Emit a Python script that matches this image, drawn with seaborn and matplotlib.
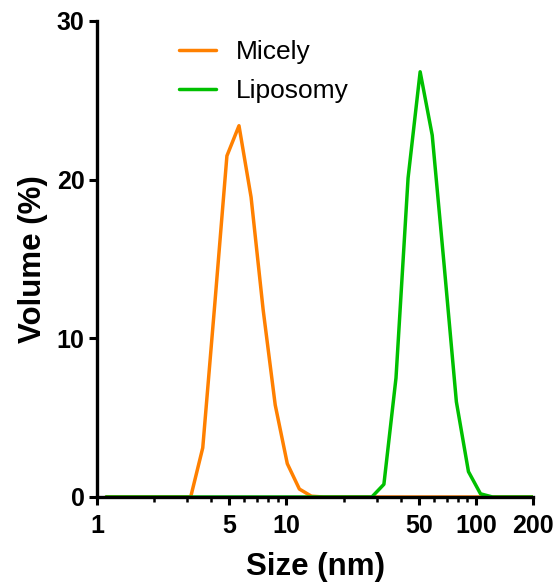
import numpy as np
import pandas as pd
import matplotlib
matplotlib.use("Agg")
import matplotlib.pyplot as plt
import matplotlib.ticker as mticker
import seaborn as sns

# Size bins (nm)
sizes = [1.117, 1.294, 1.499, 1.736, 2.01, 2.328, 2.696, 3.122, 3.615, 4.187,
         4.849, 5.615, 6.503, 7.531, 8.721, 10.1, 11.7, 13.54, 15.69, 18.17,
         21.04, 24.36, 28.21, 32.67, 37.84, 43.82, 50.75, 58.77, 68.06, 78.82,
         91.28, 105.7, 122.4, 141.8, 164.2, 190.1, 220.2]

micely = [0, 0, 0, 0, 0, 0, 0, 0, 3.1, 12.2,
          21.5, 23.4, 18.9, 11.8, 5.8, 2.1, 0.5, 0.05, 0, 0,
          0, 0, 0, 0, 0, 0, 0, 0, 0, 0,
          0, 0, 0, 0, 0, 0, 0]

liposomy = [0, 0, 0, 0, 0, 0, 0, 0, 0, 0,
            0, 0, 0, 0, 0, 0, 0, 0, 0, 0,
            0, 0, 0, 0.8, 7.5, 20.1, 26.8, 22.8, 14.5, 6.0,
            1.6, 0.2, 0, 0, 0, 0, 0]

series_names = ["Micely", "Liposomy"]
colors = ["#FF8000", "#00C000"]

x_major = [1, 5, 10, 50, 100, 200]
x_minor = [2, 3, 4, 6, 7, 8, 9, 20, 30, 40, 60, 70, 80, 90]
y_ticks = [0, 10, 20, 30]

df = pd.concat([
    pd.DataFrame({"Size": sizes, "Volume": micely, "Sample": series_names[0]}),
    pd.DataFrame({"Size": sizes, "Volume": liposomy, "Sample": series_names[1]}),
])

sns.set_style("ticks")
plt.rcParams["font.family"] = ["Liberation Sans", "DejaVu Sans"]
plt.rcParams["text.color"] = "black"
plt.rcParams["axes.labelcolor"] = "black"

fig = plt.figure(figsize=(5.59, 5.86), dpi=100)
ax = fig.add_axes([97 / 559, 89 / 586, 436 / 559, 476 / 586])

sns.lineplot(data=df, x="Size", y="Volume", hue="Sample",
             hue_order=series_names, palette=colors, linewidth=2.5,
             ax=ax, sort=False, estimator=None)

ax.set_xscale("log")
ax.set_xlim(1, 200)
ax.set_ylim(0, 30)

ax.xaxis.set_major_locator(mticker.FixedLocator(x_major))
ax.xaxis.set_minor_locator(mticker.FixedLocator(x_minor))
ax.xaxis.set_major_formatter(mticker.FixedFormatter([str(v) for v in x_major]))
ax.xaxis.set_minor_formatter(mticker.NullFormatter())
ax.set_yticks(y_ticks)
ax.yaxis.set_minor_locator(mticker.NullLocator())

for s in ["top", "right"]:
    ax.spines[s].set_visible(False)
for s in ["left", "bottom"]:
    ax.spines[s].set_linewidth(2.4)
    ax.spines[s].set_color("black")

ax.tick_params(axis="both", which="major", length=6, width=2.2,
               direction="out", colors="black", labelcolor="black",
               labelsize=18)
ax.tick_params(axis="x", which="major", pad=6.5)
ax.tick_params(axis="y", which="major", pad=3)
ax.tick_params(axis="x", which="minor", length=3.5, width=1.8,
               direction="out", colors="black")
for lab in ax.get_xticklabels() + ax.get_yticklabels():
    lab.set_fontweight("bold")

ax.set_xlabel("Size (nm)", fontsize=22.5, fontweight="bold", labelpad=10,
              color="black")
ax.set_ylabel("Volume (%)", fontsize=22.5, fontweight="bold", labelpad=6,
              color="black")

leg = ax.legend(frameon=False, loc="upper left",
                bbox_to_anchor=(179 / 559, 1 - 40 / 586),
                bbox_transform=fig.transFigure,
                fontsize=19, handlelength=1.4, handletextpad=0.75,
                labelspacing=0.58, borderpad=0, borderaxespad=0)
for line in leg.get_lines():
    line.set_linewidth(2.5)
for t in leg.get_texts():
    t.set_color("black")

fig.savefig("out.png", dpi=100)
